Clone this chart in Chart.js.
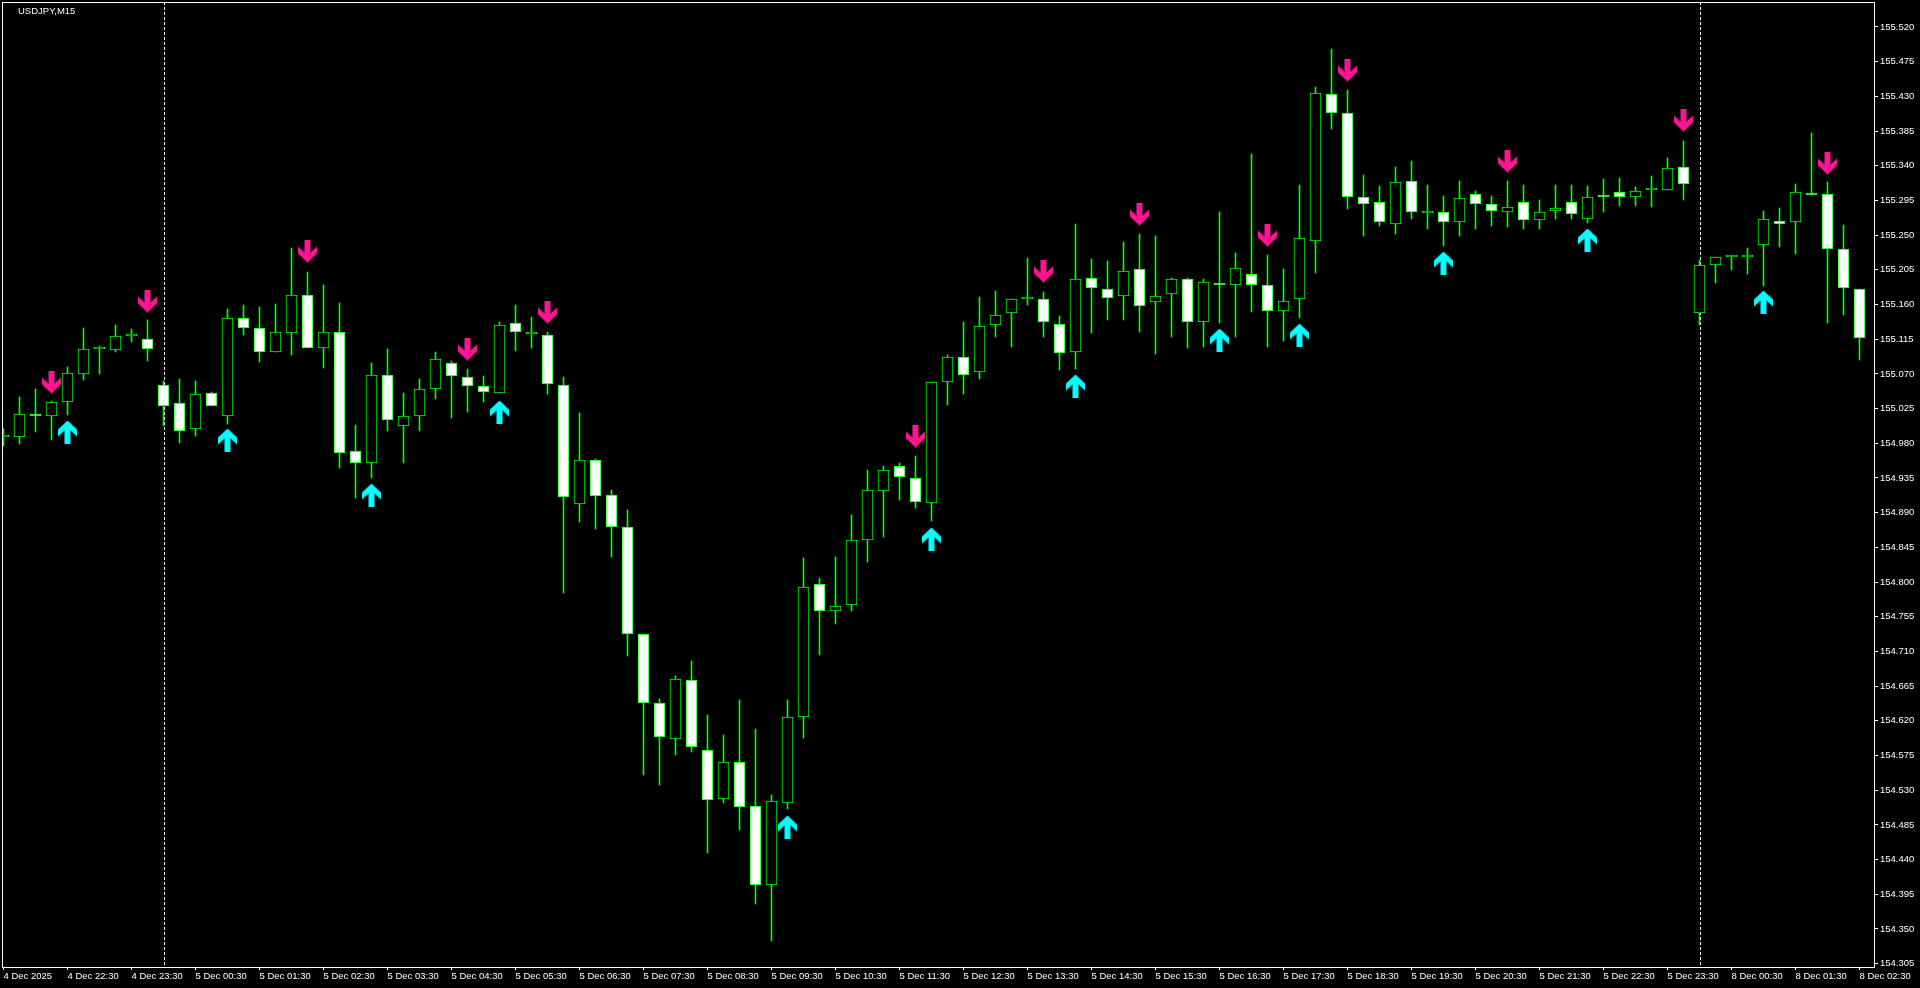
<!DOCTYPE html>
<html>
<head>
<meta charset="utf-8">
<title>USDJPY,M15</title>
<script src="https://cdn.jsdelivr.net/npm/chart.js@4.4.1/dist/chart.umd.min.js"></script>
<style>
    html, body { margin: 0; padding: 0; background: #000; overflow: hidden; }
    #chart { display: block; background: #000; }
</style>
</head>
<body>
<canvas id="chart" width="1920" height="988"></canvas>
<script>
const symbolTitle = 'USDJPY,M15';

// one label every 4 bars (M15 -> hourly)
const timeLabels = ['4 Dec 2025', '4 Dec 22:30', '4 Dec 23:30',
    '5 Dec 00:30', '5 Dec 01:30', '5 Dec 02:30', '5 Dec 03:30', '5 Dec 04:30', '5 Dec 05:30',
    '5 Dec 06:30', '5 Dec 07:30', '5 Dec 08:30', '5 Dec 09:30', '5 Dec 10:30', '5 Dec 11:30',
    '5 Dec 12:30', '5 Dec 13:30', '5 Dec 14:30', '5 Dec 15:30', '5 Dec 16:30', '5 Dec 17:30',
    '5 Dec 18:30', '5 Dec 19:30', '5 Dec 20:30', '5 Dec 21:30', '5 Dec 22:30', '5 Dec 23:30',
    '8 Dec 00:30', '8 Dec 01:30', '8 Dec 02:30'];
const barsPerLabel = 4;

const priceTicks = [155.520, 155.475, 155.430, 155.385, 155.340, 155.295, 155.250, 155.205,
    155.160, 155.115, 155.070, 155.025, 154.980, 154.935, 154.890, 154.845, 154.800, 154.755,
    154.710, 154.665, 154.620, 154.575, 154.530, 154.485, 154.440, 154.395, 154.350, 154.305];

const open = [154.988, 154.988, 155.018, 155.015, 155.034, 155.070, 155.102, 155.101, 155.119, 155.115,
    155.055, 155.032, 154.998, 155.045, 155.015, 155.142, 155.129, 155.098, 155.123, 155.172,
    155.104, 155.124, 154.970, 154.955, 155.069, 155.003, 155.015, 155.050, 155.084, 155.066,
    155.054, 155.045, 155.136, 155.122, 155.120, 155.055, 154.901, 154.958, 154.913, 154.872,
    154.732, 154.643, 154.597, 154.673, 154.582, 154.518, 154.566, 154.510, 154.407, 154.514,
    154.625, 154.797, 154.763, 154.770, 154.854, 154.918, 154.951, 154.935, 154.903, 155.059,
    155.092, 155.072, 155.133, 155.149, 155.167, 155.167, 155.135, 155.098, 155.194, 155.180,
    155.171, 155.206, 155.163, 155.173, 155.193, 155.137, 155.188, 155.185, 155.200, 155.185,
    155.151, 155.167, 155.242, 155.433, 155.409, 155.299, 155.293, 155.265, 155.320, 155.279,
    155.280, 155.267, 155.304, 155.290, 155.280, 155.293, 155.269, 155.281, 155.293, 155.271,
    155.302, 155.306, 155.299, 155.309, 155.308, 155.339, 155.149, 155.211, 155.222, 155.222,
    155.237, 155.268, 155.267, 155.304, 155.303, 155.232, 155.180];

const high = [154.998, 155.040, 155.051, 155.035, 155.079, 155.129, 155.106, 155.133, 155.128, 155.140,
    155.061, 155.063, 155.061, 155.047, 155.154, 155.159, 155.157, 155.161, 155.233, 155.202,
    155.185, 155.162, 155.004, 155.084, 155.102, 155.045, 155.063, 155.098, 155.087, 155.076,
    155.067, 155.137, 155.159, 155.144, 155.124, 155.066, 155.019, 154.960, 154.919, 154.893,
    154.732, 154.648, 154.678, 154.698, 154.628, 154.602, 154.647, 154.609, 154.524, 154.647,
    154.831, 154.805, 154.833, 154.887, 154.945, 154.950, 154.954, 154.964, 155.059, 155.095,
    155.137, 155.170, 155.178, 155.167, 155.220, 155.176, 155.145, 155.264, 155.219, 155.216,
    155.241, 155.251, 155.249, 155.195, 155.194, 155.193, 155.280, 155.227, 155.355, 155.224,
    155.206, 155.315, 155.442, 155.491, 155.438, 155.328, 155.314, 155.338, 155.346, 155.315,
    155.301, 155.320, 155.307, 155.301, 155.320, 155.315, 155.296, 155.315, 155.315, 155.314,
    155.323, 155.324, 155.312, 155.327, 155.350, 155.372, 155.218, 155.221, 155.224, 155.233,
    155.281, 155.285, 155.316, 155.382, 155.319, 155.263, 155.180];

const low = [154.976, 154.979, 154.994, 154.984, 155.017, 155.062, 155.070, 155.098, 155.112, 155.087,
    155.002, 154.981, 154.990, 155.029, 155.005, 155.120, 155.085, 155.098, 155.095, 155.103,
    155.078, 154.948, 154.909, 154.935, 154.996, 154.955, 154.996, 155.037, 155.013, 155.020,
    155.034, 155.045, 155.100, 155.103, 155.044, 154.786, 154.878, 154.869, 154.832, 154.704,
    154.550, 154.537, 154.576, 154.580, 154.449, 154.514, 154.479, 154.383, 154.335, 154.505,
    154.598, 154.706, 154.746, 154.762, 154.826, 154.859, 154.906, 154.896, 154.879, 155.030,
    155.044, 155.063, 155.118, 155.105, 155.159, 155.118, 155.075, 155.077, 155.123, 155.140,
    155.140, 155.125, 155.096, 155.118, 155.104, 155.105, 155.136, 155.118, 155.150, 155.105,
    155.113, 155.142, 155.201, 155.388, 155.284, 155.249, 155.262, 155.251, 155.271, 155.258,
    155.236, 155.249, 155.258, 155.262, 155.260, 155.258, 155.258, 155.271, 155.271, 155.266,
    155.280, 155.288, 155.288, 155.286, 155.308, 155.296, 155.134, 155.188, 155.205, 155.199,
    155.184, 155.234, 155.226, 155.302, 155.136, 155.146, 155.088];

const close = [154.988, 155.018, 155.015, 155.033, 155.071, 155.102, 155.102, 155.119, 155.119, 155.102,
    155.029, 154.996, 155.044, 155.029, 155.143, 155.129, 155.099, 155.124, 155.172, 155.103,
    155.125, 154.968, 154.954, 155.068, 155.010, 155.015, 155.051, 155.089, 155.067, 155.054,
    155.046, 155.133, 155.124, 155.122, 155.057, 154.910, 154.958, 154.911, 154.871, 154.732,
    154.643, 154.599, 154.674, 154.586, 154.517, 154.566, 154.508, 154.407, 154.516, 154.625,
    154.793, 154.763, 154.769, 154.854, 154.919, 154.946, 154.936, 154.904, 155.059, 155.092,
    155.069, 155.132, 155.146, 155.167, 155.167, 155.137, 155.097, 155.193, 155.181, 155.169,
    155.204, 155.158, 155.171, 155.193, 155.137, 155.189, 155.185, 155.207, 155.185, 155.151,
    155.164, 155.246, 155.435, 155.408, 155.300, 155.291, 155.267, 155.319, 155.280, 155.279,
    155.267, 155.298, 155.291, 155.281, 155.286, 155.269, 155.280, 155.285, 155.278, 155.299,
    155.299, 155.299, 155.307, 155.309, 155.337, 155.316, 155.211, 155.221, 155.222, 155.222,
    155.271, 155.265, 155.306, 155.302, 155.232, 155.181, 155.116];

// indicator arrows (bar index + price where the arrow sits)
const sellBars = [3, 9, 19, 29, 34, 57, 65, 71, 79, 84, 94, 105, 114];
const sellPrices = [155.060, 155.165, 155.229, 155.102, 155.150, 154.989, 155.203, 155.277, 155.250,
    155.464, 155.346, 155.399, 155.344];
const buyBars = [4, 14, 23, 31, 49, 58, 67, 76, 81, 90, 99, 110];
const buyPrices = [154.995, 154.984, 154.913, 155.021, 154.482, 154.856, 155.054, 155.114, 155.120,
    155.214, 155.244, 155.163];

// first bar of a new day -> period separator
const dayStarts = [10, 106];

const labelFont = { family: "'Liberation Sans', Arial, sans-serif", size: 9.5 };
const candleGreen = '#00ff00';

function makeArrow(color, down) {
    const c = document.createElement('canvas');
    c.width = 19;
    c.height = 23;
    const g = c.getContext('2d');
    const pts = [[6.5,0],[12.5,0],[12.5,13],[19,7],[19,14],[9.5,23],[0,14],[0,7],[6.5,13]];
    g.fillStyle = color;
    g.beginPath();
    pts.forEach(function(p, k) {
        const y = down ? p[1] : 23 - p[1];
        if (k === 0) g.moveTo(p[0], y); else g.lineTo(p[0], y);
    });
    g.closePath();
    g.fill();
    return c;
}

// snap candle edges to whole pixels, like the terminal does
const pixelSnap = {
    id: 'pixelSnap',
    afterDatasetsUpdate(chart) {
        chart.data.datasets.forEach(function(ds, d) {
            chart.getDatasetMeta(d).data.forEach(function(el) {
                el.y = Math.round(el.y);
                if (el.base !== undefined) el.base = Math.round(el.base);
            });
        });
    }
};

const mtDecor = {
    id: 'mtDecor',
    beforeDatasetsDraw(chart) {
        const ctx = chart.ctx;
        const area = chart.chartArea;
        const xs = chart.scales.x;
        ctx.save();
        ctx.strokeStyle = '#ffffff';
        ctx.lineWidth = 1;
        ctx.setLineDash([3, 2]);
        dayStarts.forEach(function(i) {
            const x = Math.round(xs.getPixelForValue(i)) + 0.5;
            ctx.beginPath();
            ctx.moveTo(x, area.top);
            ctx.lineTo(x, area.bottom);
            ctx.stroke();
        });
        ctx.restore();
    },
    afterDraw(chart) {
        const ctx = chart.ctx;
        const area = chart.chartArea;
        ctx.save();
        ctx.strokeStyle = '#ffffff';
        ctx.lineWidth = 1;
        ctx.strokeRect(area.left + 0.5, area.top + 0.5, area.right - area.left, area.bottom - area.top);
        ctx.fillStyle = '#ffffff';
        ctx.font = '9.5px ' + labelFont.family;
        ctx.textBaseline = 'alphabetic';
        ctx.fillText(symbolTitle, 18, 14);
        ctx.restore();
    }
};

window.onload = function() {
    const ctx = document.getElementById('chart');

    const wickData = open.map(function(o, i) { return { x: i, y: [low[i], high[i]] }; });
    const bodyData = open.map(function(o, i) { return { x: i, y: [o, close[i]] }; });
    const bodyFill = open.map(function(o, i) { return close[i] < o ? '#ffffff' : '#000000'; });

    new Chart(ctx, {
        type: 'bar',
        data: {
            datasets: [{
                label: 'wicks',
                data: wickData,
                backgroundColor: candleGreen,
                barThickness: 1,
                grouped: false,
                order: 3
            }, {
                label: 'bodies',
                data: bodyData,
                backgroundColor: bodyFill,
                borderColor: candleGreen,
                borderWidth: 1,
                borderSkipped: false,
                barThickness: 11,
                minBarLength: 2,
                grouped: false,
                order: 2
            }, {
                type: 'scatter',
                label: 'sell',
                data: sellBars.map(function(b, k) { return { x: b, y: sellPrices[k] }; }),
                pointStyle: makeArrow('#ff1493', true),
                pointRadius: 10,
                order: 1
            }, {
                type: 'scatter',
                label: 'buy',
                data: buyBars.map(function(b, k) { return { x: b, y: buyPrices[k] }; }),
                pointStyle: makeArrow('#00ffff', false),
                pointRadius: 10,
                order: 1
            }]
        },
        options: {
            responsive: false,
            animation: false,
            events: [],
            layout: { autoPadding: false, padding: { top: 2, left: 2, right: 0, bottom: 0 } },
            plugins: {
                legend: { display: false },
                tooltip: { enabled: false }
            },
            scales: {
                x: {
                    type: 'linear',
                    min: -0.09375,
                    max: 116.90625,
                    offset: false,
                    afterBuildTicks: function(s) {
                        s.ticks = timeLabels.map(function(t, k) { return { value: k * barsPerLabel }; });
                    },
                    afterFit: function(s) {
                        s.height = 21;
                        s.paddingLeft = 0;
                        s.paddingRight = 0;
                    },
                    grid: { display: true, drawOnChartArea: false, drawTicks: true, tickLength: 3, color: '#ffffff', offset: false },
                    border: { display: false },
                    ticks: {
                        color: '#ffffff',
                        autoSkip: false,
                        maxRotation: 0,
                        minRotation: 0,
                        align: 'start',
                        padding: 1,
                        font: labelFont,
                        callback: function(v, k) { return timeLabels[k]; }
                    }
                },
                y: {
                    position: 'right',
                    min: 154.3007,
                    max: 155.5524,
                    afterBuildTicks: function(s) {
                        s.ticks = priceTicks.map(function(v) { return { value: v }; });
                    },
                    afterFit: function(s) {
                        s.width = 46;
                        s.paddingTop = 0;
                        s.paddingBottom = 0;
                    },
                    grid: { display: true, drawOnChartArea: false, drawTicks: true, tickLength: 4, color: '#ffffff' },
                    border: { display: false },
                    ticks: {
                        color: '#ffffff',
                        padding: 2,
                        font: labelFont,
                        callback: function(v) { return Number(v).toFixed(3); }
                    }
                }
            }
        },
        plugins: [pixelSnap, mtDecor]
    });
};
</script>
</body>
</html>
